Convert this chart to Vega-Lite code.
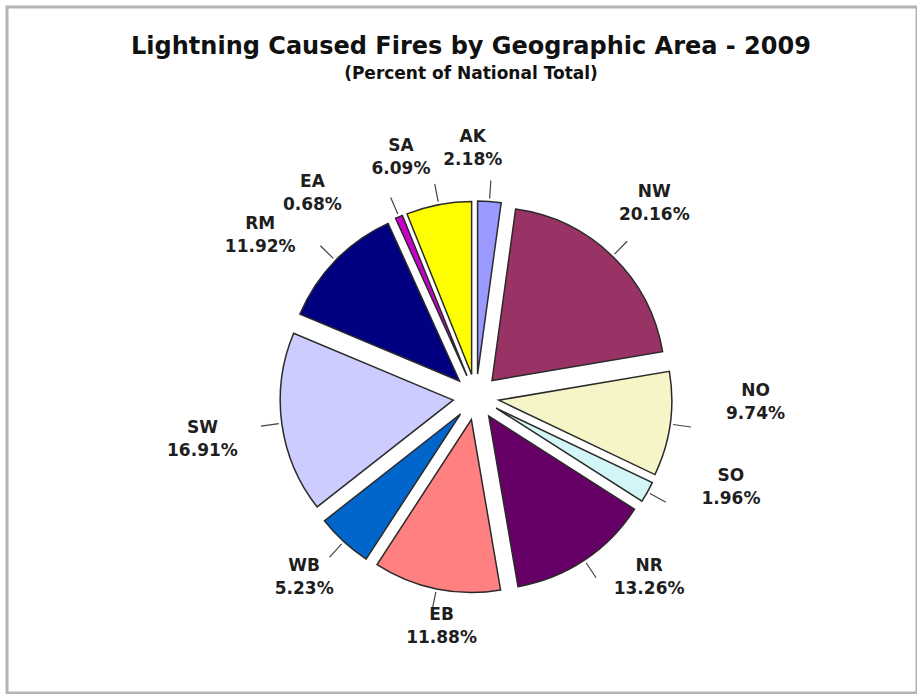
{
  "$schema": "https://vega.github.io/schema/vega-lite/v6.json",
  "width": 910,
  "height": 686,
  "padding": {"left": 7, "top": 7, "right": 0, "bottom": 1},
  "autosize": {"type": "none"},
  "background": "white",
  "view": {"stroke": "#b4b4b4", "strokeWidth": 3},
  "config": {"view": {"stroke": "#b4b4b4", "strokeWidth": 3}},
  "title": {
    "text": "Lightning Caused Fires by Geographic Area - 2009",
    "subtitle": "(Percent of National Total)",
    "font": "DejaVu Sans",
    "fontSize": 24,
    "fontWeight": "bold",
    "color": "#111111",
    "subtitleFont": "DejaVu Sans",
    "subtitleFontSize": 17,
    "subtitleFontWeight": "bold",
    "subtitleColor": "#111111",
    "anchor": "middle",
    "frame": "group",
    "offset": -75,
    "subtitlePadding": 7,
    "dx": 9
  },
  "data": {
    "values": [
      {"idx": 1, "region": "AK", "pct": 2.18, "label": "AK\n2.18%"},
      {"idx": 2, "region": "NW", "pct": 20.16, "label": "NW\n20.16%"},
      {"idx": 3, "region": "NO", "pct": 9.74, "label": "NO\n9.74%"},
      {"idx": 4, "region": "SO", "pct": 1.96, "label": "SO\n1.96%"},
      {"idx": 5, "region": "NR", "pct": 13.26, "label": "NR\n13.26%"},
      {"idx": 6, "region": "EB", "pct": 11.88, "label": "EB\n11.88%"},
      {"idx": 7, "region": "WB", "pct": 5.23, "label": "WB\n5.23%"},
      {"idx": 8, "region": "SW", "pct": 16.91, "label": "SW\n16.91%"},
      {"idx": 9, "region": "RM", "pct": 11.92, "label": "RM\n11.92%"},
      {"idx": 10, "region": "EA", "pct": 0.68, "label": "EA\n0.68%"},
      {"idx": 11, "region": "SA", "pct": 6.09, "label": "SA\n6.09%"}
    ]
  },
  "encoding": {
    "theta": {"field": "pct", "type": "quantitative", "stack": true},
    "order": {"field": "idx", "type": "quantitative"}
  },
  "layer": [
    {
      "mark": {
        "type": "arc",
        "outerRadius": 173,
        "stroke": "#2a2a2a",
        "strokeWidth": 1.5,
        "x": {"expr": "width/2+14"},
        "y": {"expr": "height/2+47"},
        "xOffset": {"expr": "23*sin(scale('theta', 0.5*(datum.pct_start+datum.pct_end)))"},
        "yOffset": {"expr": "-23*cos(scale('theta', 0.5*(datum.pct_start+datum.pct_end)))"}
      },
      "encoding": {
        "color": {
          "field": "region",
          "type": "nominal",
          "scale": {
            "domain": ["AK", "NW", "NO", "SO", "NR", "EB", "WB", "SW", "RM", "EA", "SA"],
            "range": ["#9999FF", "#993366", "#F5F5C8", "#D2F5F5", "#660066", "#FF8080", "#0066CC", "#CCCCFF", "#000080", "#CC00CC", "#FFFF00"]
          },
          "legend": null
        }
      }
    },
    {
      "mark": {
        "type": "arc",
        "innerRadius": 176,
        "outerRadius": 194,
        "padAngle": 3,
        "fill": "transparent",
        "stroke": "#444444",
        "strokeWidth": 1.2,
        "x": {"expr": "width/2+14"},
        "y": {"expr": "height/2+47"},
        "xOffset": {"expr": "23*sin(scale('theta', 0.5*(datum.pct_start+datum.pct_end)))"},
        "yOffset": {"expr": "-23*cos(scale('theta', 0.5*(datum.pct_start+datum.pct_end)))"}
      },
      "encoding": {}
    },
    {
      "mark": {
        "type": "text",
        "radius": 240,
        "font": "DejaVu Sans",
        "fontSize": 17,
        "fontWeight": "bold",
        "color": "#1e1e1e",
        "lineBreak": "\n",
        "lineHeight": 23,
        "align": "center",
        "baseline": "middle",
        "x": {"expr": "width/2+14"},
        "y": {"expr": "height/2+47"},
        "dy": -20,
        "thetaOffset": {"expr": "datum.pct < 1 ? -0.22 : -0.08"},
        "dx": {"expr": "40*sin(scale('theta', 0.5*(datum.pct_start+datum.pct_end)) + (datum.pct < 1 ? -0.22 : -0.08))"}
      },
      "encoding": {
        "text": {"field": "label", "type": "nominal"}
      }
    }
  ]
}
